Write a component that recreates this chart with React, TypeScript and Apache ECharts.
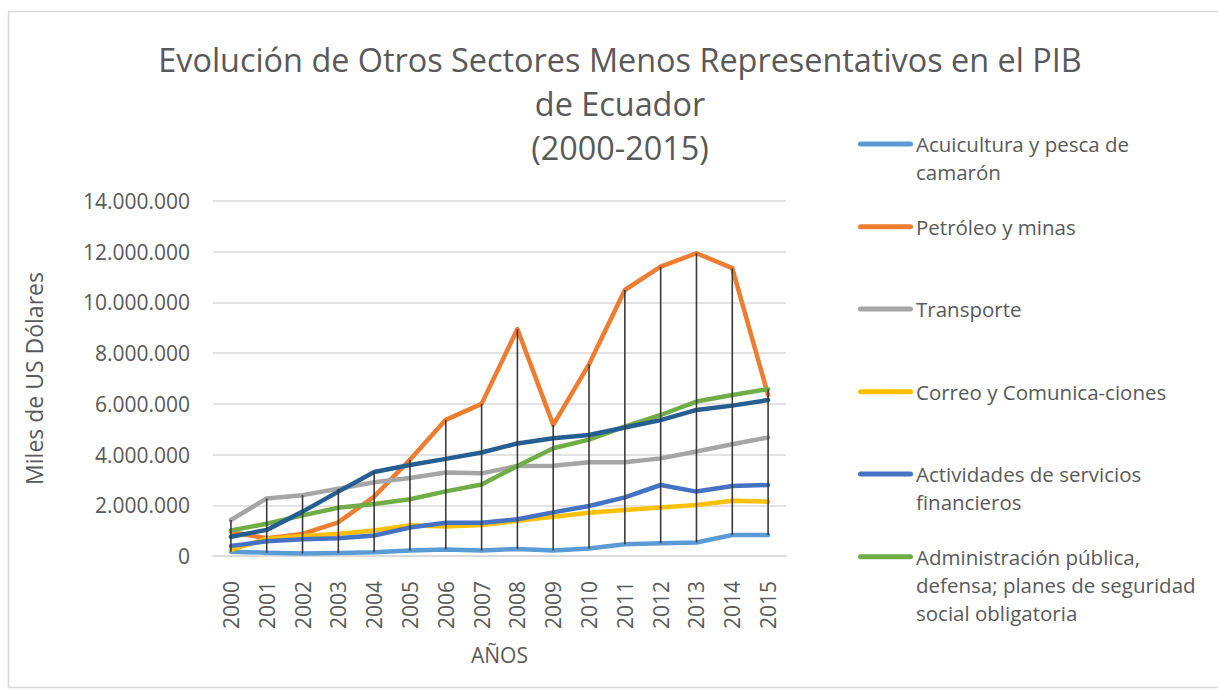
import React, { useEffect, useRef } from "react";
import * as echarts from "echarts";

const years = ["2000","2001","2002","2003","2004","2005","2006","2007","2008","2009","2010","2011","2012","2013","2014","2015"];

const acuicultura = [170000,130000,100000,120000,150000,220000,260000,220000,280000,220000,300000,460000,500000,530000,830000,830000];
const petroleo = [950000,700000,870000,1330000,2340000,3800000,5370000,6000000,8950000,5170000,7560000,10490000,11410000,11940000,11350000,6350000];
const transporte = [1420000,2270000,2400000,2650000,2910000,3080000,3290000,3260000,3550000,3560000,3700000,3700000,3850000,4120000,4410000,4670000];
const correo = [240000,680000,790000,880000,1010000,1210000,1160000,1220000,1390000,1550000,1710000,1810000,1910000,2010000,2180000,2140000];
const financieros = [400000,580000,660000,700000,810000,1120000,1310000,1310000,1450000,1720000,1970000,2310000,2800000,2540000,2760000,2800000];
const administracion = [1010000,1270000,1600000,1900000,2050000,2240000,2550000,2820000,3550000,4250000,4590000,5100000,5560000,6090000,6350000,6580000];
const serie7 = [760000,1030000,1750000,2540000,3310000,3590000,3830000,4080000,4440000,4640000,4770000,5070000,5360000,5760000,5930000,6150000];

const seriesNames = [
  "Acuicultura y pesca de camarón",
  "Petróleo y minas",
  "Transporte",
  "Correo y Comunica-ciones",
  "Actividades de servicios financieros",
  "Administración pública, defensa; planes de seguridad social obligatoria",
  "Serie 7",
];
const legendLabels = [
  "Acuicultura y pesca de\ncamarón",
  "Petróleo y minas",
  "Transporte",
  "Correo y Comunica-ciones",
  "Actividades de servicios\nfinancieros",
  "Administración pública,\ndefensa; planes de seguridad\nsocial obligatoria",
];
const seriesData = [acuicultura, petroleo, transporte, correo, financieros, administracion, serie7];
const colors = ["#5B9BD5", "#ED7D31", "#A5A5A5", "#FFC000", "#4472C4", "#70AD47", "#255E91"];

const yTicks = { min: 0, max: 14000000, interval: 2000000 };

const fmt = (v: number) => String(v).replace(/\B(?=(\d{3})+(?!\d))/g, ".");

export default function App() {
  const ref = useRef<HTMLDivElement>(null);
  useEffect(() => {
    document.body.style.margin = "0";
    const chart = echarts.init(ref.current!, null, { renderer: "svg" });
    const hiLo = years.map((_, i) => {
      const vals = seriesData.map((s) => s[i]);
      return [i, Math.min(...vals), Math.max(...vals)];
    });
    const textColor = "#595959";
    const font = "Open Sans";
    const legendY = [144, 226.7, 309, 391.7, 474, 556.7];
    const legendGraphics: any[] = [];
    legendLabels.forEach((lab, i) => {
      legendGraphics.push({
        type: "rect",
        shape: { x: 858, y: legendY[i] - 2.5, width: 55, height: 5, r: 2.5 },
        style: { fill: colors[i] },
      });
      legendGraphics.push({
        type: "text",
        x: 916,
        y: legendY[i] - 14,
        style: {
          text: lab,
          fill: textColor,
          font: `20.5px "${font}"`,
          lineHeight: 28,
          verticalAlign: "top",
          align: "left",
        },
      });
    });
    chart.setOption({
      animation: false,
      textStyle: { fontFamily: font },
      title: {
        text: "Evolución de Otros Sectores Menos Representativos en el PIB\nde Ecuador\n(2000-2015)",
        left: 620,
        textAlign: "center",
        top: 37,
        padding: 0,
        textStyle: { fontFamily: font, fontSize: 32.4, fontWeight: "normal", color: textColor, lineHeight: 44 },
      },
      grid: { left: 213, right: 432, top: 201, bottom: 134 },
      xAxis: {
        type: "category",
        data: years,
        boundaryGap: true,
        name: "AÑOS",
        nameLocation: "middle",
        nameGap: 88,
        nameTextStyle: { fontSize: 21, color: textColor, fontFamily: font },
        axisLine: { show: true, lineStyle: { color: "#D9D9D9", width: 1.5 } },
        axisTick: { show: false },
        axisLabel: { rotate: 90, fontSize: 21, color: textColor, margin: 25, fontFamily: font },
      },
      yAxis: {
        type: "value",
        min: yTicks.min,
        max: yTicks.max,
        interval: yTicks.interval,
        name: "Miles de US Dólares",
        nameLocation: "middle",
        nameGap: 168,
        nameRotate: 90,
        nameTextStyle: { fontSize: 23, color: textColor, fontFamily: font },
        axisLine: { show: false },
        axisTick: { show: false },
        axisLabel: { fontSize: 21, color: textColor, margin: 23, formatter: (v: number) => fmt(v), fontFamily: font },
        splitLine: { lineStyle: { color: "#D9D9D9", width: 1.5 } },
      },
      graphic: [
        {
          type: "rect",
          shape: { x: 8.5, y: 11.5, width: 1230, height: 676 },
          style: { fill: "none", stroke: "#D9D9D9", lineWidth: 1.5 },
          silent: true,
        },
        ...legendGraphics,
      ],
      series: [
        ...seriesData.map((d, i) => ({
          type: "line",
          name: seriesNames[i],
          data: d,
          symbol: "none",
          lineStyle: { color: colors[i], width: 4.5, cap: "round", join: "round" },
          itemStyle: { color: colors[i] },
          z: 2,
        })),
        {
          type: "custom",
          name: "hi-lo",
          data: hiLo,
          z: 5,
          renderItem: (params: any, api: any) => {
            const p1 = api.coord([api.value(0), api.value(1)]);
            const p2 = api.coord([api.value(0), api.value(2)]);
            return {
              type: "line",
              shape: { x1: p1[0], y1: p1[1], x2: p2[0], y2: p2[1] },
              style: { stroke: "#3A3A3A", lineWidth: 1.6 },
            };
          },
        },
      ],
    });
    return () => chart.dispose();
  }, []);
  return <div ref={ref} style={{ width: 1218, height: 690 }} />;
}
